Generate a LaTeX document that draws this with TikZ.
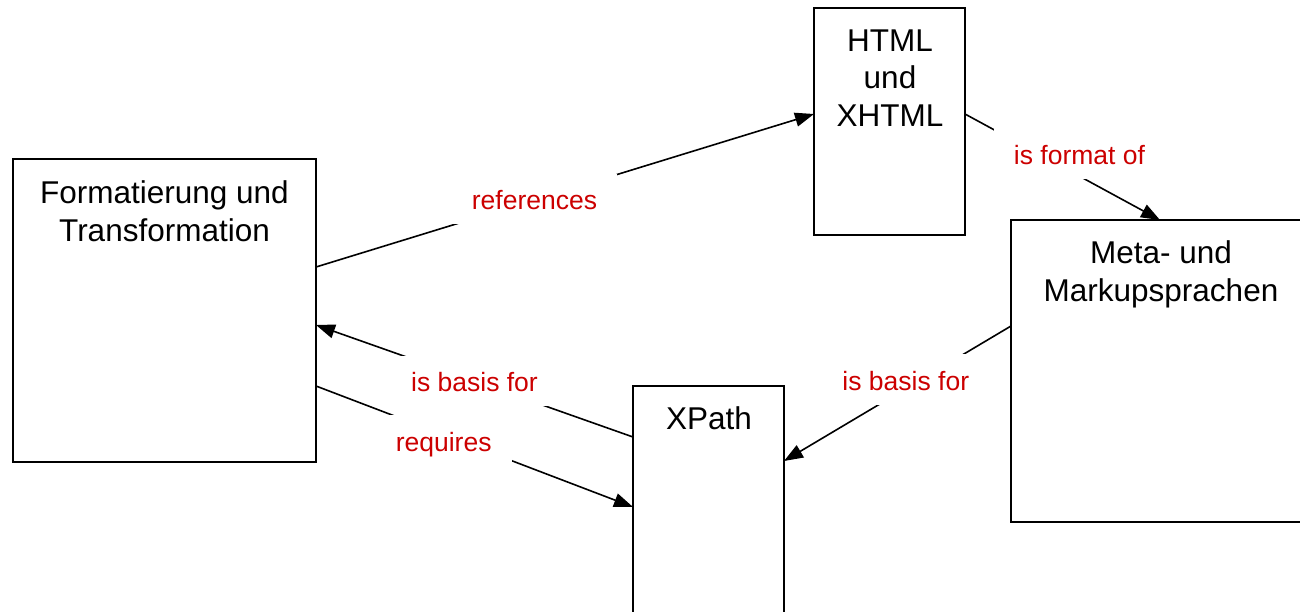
\documentclass[tikz,border=0pt]{standalone}
\usepackage{fontspec}
\setmainfont{Liberation Sans}
\usetikzlibrary{arrows.meta}
\definecolor{lblred}{RGB}{204,0,0}
\tikzset{
  box/.style={draw=black, line width=2.2pt, fill=none, inner sep=0pt, outer sep=0pt, rectangle},
  boxtext/.style={anchor=north, inner sep=0pt, align=center, font=\fontsize{31.5pt}{37.5pt}\selectfont},
  conn/.style={line width=1.6pt, draw=black},
  arr/.style={conn, -{Triangle[length=19pt, width=14pt]}},
  lbl/.style={anchor=base, fill=white, text=lblred, inner xsep=20pt, inner ysep=10pt,
    text height=26pt, text depth=4.7pt, font=\fontsize{26.5pt}{30pt}\selectfont}
}
\begin{document}
\begin{tikzpicture}[x=1pt, y=-1pt]
\useasboundingbox (0,0) rectangle (1300,611);
\clip (0,0) rectangle (1300,611);
\fill[white] (0,0) rectangle (1300,611);
% boxes
\node[box, minimum width=303pt, minimum height=303pt] (fmt) at (164.5,310.5) {};
\node[box, minimum width=151pt, minimum height=227pt] (html) at (889.5,121.5) {};
\node[box, minimum width=299pt, minimum height=302pt] (meta) at (1160.5,371) {};
\node[box, minimum width=151pt, minimum height=254pt] (xpath) at (708.5,513) {};
% box texts
\node[boxtext] (tfmt) at (164.5,180.5) {Formatierung und\\Transformation};
\node[boxtext] (thtml) at (890,29.5) {HTML\\und\\XHTML};
\node[boxtext] (tmeta) at (1161,240.5) {Meta- und\\Markupsprachen};
\node[boxtext] (txpath) at (709,406.5) {XPath};
% connectors
\draw[arr] (fmt.east |- 0,267) -- (html.west |- 0,114);
\draw[arr] (html.east |- 0,114) -- (meta.north -| 1160,0);
\draw[arr] (meta.west |- 0,326) -- (xpath.east |- 0,461);
\draw[arr] (xpath.west |- 0,437) -- (fmt.east |- 0,325);
\draw[arr] (fmt.east |- 0,386) -- (xpath.west |- 0,507);
% labels
\node[lbl] (lref) at (534.5,209.5) {references};
\node[lbl] (lfmt) at (1079.5,164) {is format of};
\node[lbl] (lbas1) at (474.5,391.7) {is basis for};
\node[lbl] (lreq) at (443.7,451) {requires};
\node[lbl] (lbas2) at (905.8,390) {is basis for};
\end{tikzpicture}
\end{document}
